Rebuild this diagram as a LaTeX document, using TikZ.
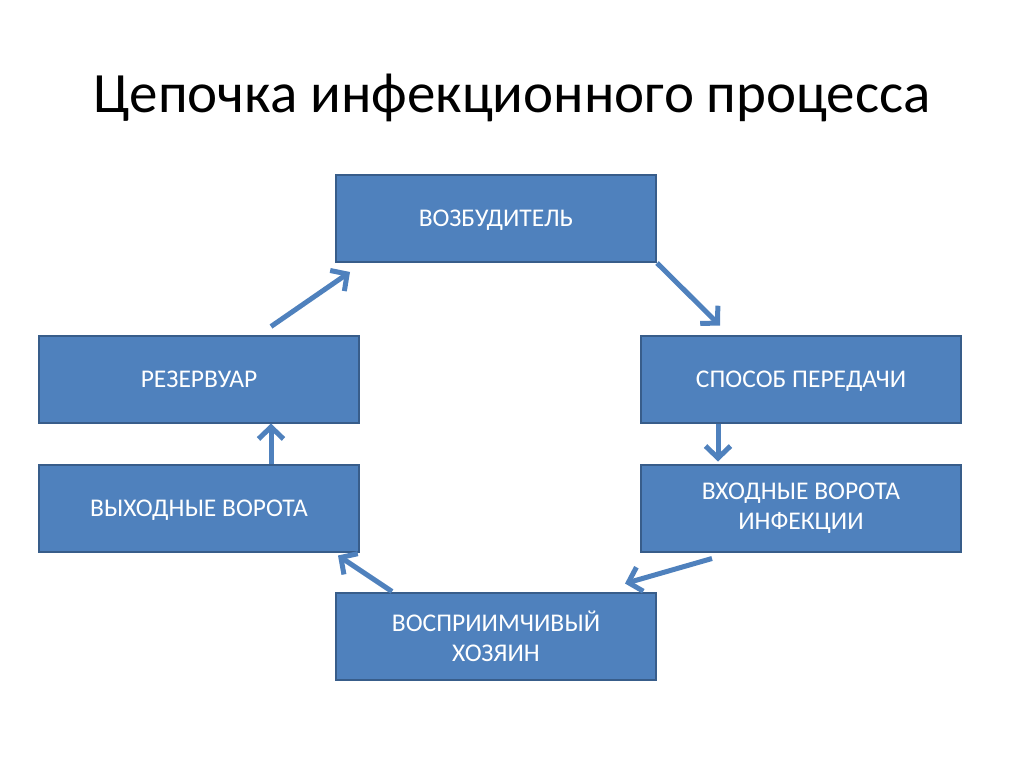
\documentclass[tikz,border=0pt]{standalone}
\usepackage{fontspec}
\setmainfont{Carlito}
\usetikzlibrary{arrows.meta,positioning}
\definecolor{boxblue}{HTML}{4F81BD}
\definecolor{boxedge}{HTML}{385D8A}

\begin{document}
\begin{tikzpicture}[x=1pt, y=-1pt, chain block/.style={draw=boxedge, fill=boxblue, line width=2pt, minimum width=320pt, minimum height=87pt, inner sep=0pt, align=center, text=white, font=\fontsize{25.5}{30}\selectfont}, one line/.style={text depth=0pt}, chain arrow/.style={draw=boxblue, line width=5pt, -{Straight Barb[length=12pt,width=25pt]}}]
    \useasboundingbox (0,0) rectangle (1024,767);
    \node[anchor=base, font=\fontsize{57}{64}\selectfont] (title) at (512,113) {Цепочка инфекционного процесса};
    \node[chain block, one line] (vozb) at (496,218.5) {ВОЗБУДИТЕЛЬ};
    \node[chain block, one line] (rezerv) at (199,379) {РЕЗЕРВУАР};
    \node[chain block, one line] (sposob) at (801,379) {СПОСОБ ПЕРЕДАЧИ};
    \node[chain block, one line] (vyhod) at (199,508) {ВЫХОДНЫЕ ВОРОТА};
    \node[chain block] (vhod) at (801,508) {ВХОДНЫЕ ВОРОТА\\ИНФЕКЦИИ};
    \node[chain block] (hozyain) at (496,636) {ВОСПРИИМЧИВЫЙ\\ХОЗЯИН};
    
    \draw[chain arrow] ([xshift=72pt,yshift=8pt]rezerv.north) -- ([xshift=15pt,yshift=-9pt]vozb.south west);
    \draw[chain arrow] (vozb.south east) -- ([xshift=80pt,yshift=9pt]sposob.north west);
    \draw[chain arrow] ([xshift=-83pt]sposob.south) -- ([xshift=-83pt,yshift=2pt]vhod.north);
    \draw[chain arrow] ([xshift=-89pt,yshift=-6pt]vhod.south) -- ([xshift=-32pt,yshift=8pt]hozyain.north east);
    \draw[chain arrow] ([xshift=57pt]hozyain.north west) -- ([xshift=-22pt,yshift=-3pt]vyhod.south east);
    \draw[chain arrow] ([xshift=72pt]vyhod.north) -- ([xshift=72pt]rezerv.south);
\end{tikzpicture}
\end{document}
